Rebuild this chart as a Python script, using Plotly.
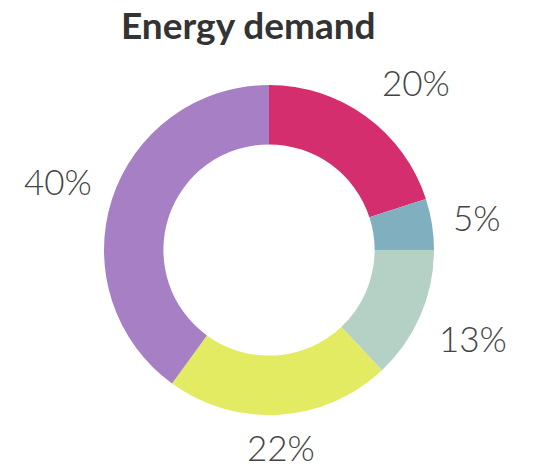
import math
import plotly.graph_objects as go

labels = ["A", "B", "C", "D", "E"]
values = [20, 5, 13, 22, 40]
colors = ["#D42E6E", "#80B0C0", "#B5D1C6", "#E3EB62", "#A67FC4"]
title_text = "Energy demand"

W, H = 539, 469
cx, cy, R = 269, 250, 165
gap = 20
fs = 35

fig = go.Figure(go.Pie(
    labels=labels, values=values, sort=False, direction="clockwise", rotation=0,
    hole=0.64, textinfo="none", hoverinfo="none",
    marker=dict(colors=colors, line=dict(width=0)),
    domain=dict(x=[(cx - R) / W, (cx + R) / W], y=[1 - (cy + R) / H, 1 - (cy - R) / H]),
))

total = sum(values)
cum = 0
anns = []
for v in values:
    mid = (cum + v / 2) / total * 2 * math.pi
    cum += v
    s, c = math.sin(mid), math.cos(mid)
    txt = f"{round(v / total * 100)}%"
    hw = 0.34 * fs * len(txt)
    hh = 0.3 * fs
    if abs(s) > 0.5 and abs(c) > 0.5:
        d = R + gap + 5
        px = cx + d * s + math.copysign(hw, s)
        py = cy - d * c - math.copysign(0.4 * fs, c)
    else:
        d = R + gap + abs(s) * hw + abs(c) * hh
        px = cx + d * s
        py = cy - d * c
    anns.append(dict(x=px / W, y=1 - py / H, xref="paper", yref="paper",
                     text=txt, showarrow=False, xanchor="center", yanchor="middle",
                     height=40,
                     font=dict(family="Lato", size=fs, color="#444444", weight=300)))

anns.append(dict(x=248 / W, y=1 - 0 / H, xref="paper", yref="paper", text=f"<b>{title_text}</b>",
                 showarrow=False, xanchor="center", yanchor="top",
                 font=dict(family="Lato", size=37, color="#333333")))

fig.update_layout(
    width=W, height=H, margin=dict(l=0, r=0, t=0, b=0),
    paper_bgcolor="white", plot_bgcolor="white", showlegend=False,
    annotations=anns,
)

fig.write_html("out.html")
